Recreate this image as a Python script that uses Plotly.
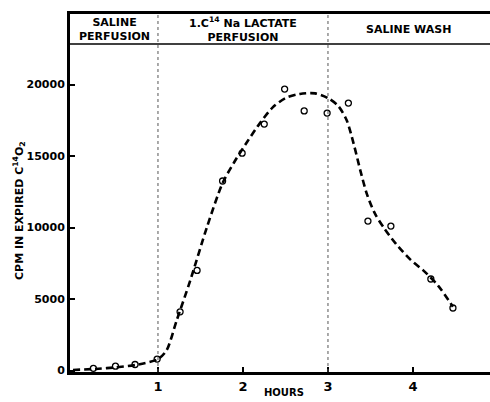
import plotly.graph_objects as go

# observed data points (hours, CPM)
obs_hours = [0.24, 0.5, 0.73, 0.99, 1.26, 1.46, 1.76, 1.99, 2.25, 2.49, 2.72, 2.99, 3.24, 3.47, 3.74, 4.21, 4.47]
obs_cpm = [150, 300, 420, 800, 4100, 7000, 13250, 15200, 17230, 19680, 18150, 18000, 18700, 10450, 10100, 6400, 4370]

# fitted dashed curve
fit_hours = [0.0, 0.3, 0.5, 0.75, 1.0, 1.1, 1.22, 1.38, 1.58, 1.76, 1.9, 2.05, 2.2, 2.35, 2.5, 2.67, 2.85, 3.0, 3.12, 3.22, 3.30, 3.38, 3.46, 3.55, 3.66, 3.8, 3.97, 4.14, 4.3, 4.47]
fit_cpm = [40, 120, 220, 400, 800, 1400, 3500, 6300, 10100, 13100, 14600, 16000, 17300, 18400, 19050, 19340, 19380, 19050, 18500, 17500, 15900, 14000, 12300, 11000, 9950, 8850, 7750, 6900, 5900, 4460]

x_ticks = [1, 2, 3, 4]
y_ticks = [0, 5000, 10000, 15000, 20000]
phases = ["SALINE<br>PERFUSION", "1.C<sup>14</sup> Na LACTATE<br>PERFUSION", "SALINE WASH"]
phase_x = [0.49, 2.0, 3.95]
bounds = [1, 3]

XR = [-0.035, 4.906]
YR = [-105, 24930]
HEADER_Y = 22830

FONT = "DejaVu Sans"

fig = go.Figure()
fig.add_trace(go.Scatter(x=fit_hours, y=fit_cpm, mode="lines",
                         line=dict(color="black", width=2.6, dash="7px,4px", shape="spline", smoothing=0.8),
                         hoverinfo="skip"))
fig.add_trace(go.Scatter(x=obs_hours, y=obs_cpm, mode="markers",
                         marker=dict(symbol="circle-open", size=6, color="black", line=dict(width=1.3))))

shapes = []
for b in bounds:
    shapes.append(dict(type="line", xref="x", yref="y", x0=b, x1=b, y0=YR[0], y1=YR[1],
                       line=dict(color="#555", width=1, dash="dot")))
shapes.append(dict(type="line", xref="paper", yref="y", x0=0, x1=1, y0=HEADER_Y, y1=HEADER_Y,
                   line=dict(color="black", width=1.6)))

annotations = []
for t, px in zip(phases, phase_x):
    annotations.append(dict(text="<b>" + t + "</b>", x=px, y=(HEADER_Y + YR[1]) / 2, xref="x", yref="y",
                            showarrow=False, font=dict(family=FONT, size=11, color="black"),
                            align="center"))
annotations.append(dict(text="<b>HOURS</b>", x=0.51, y=-0.056, xref="paper", yref="paper",
                        showarrow=False, font=dict(family=FONT, size=10, color="black"), yanchor="middle"))
annotations.append(dict(text="<b>CPM IN EXPIRED C<sup>14</sup>O<sub>2</sub></b>", x=-0.145, y=0.45,
                        xref="paper", yref="paper", textangle=-90, showarrow=False,
                        font=dict(family=FONT, size=11, color="black")))

fig.update_layout(
    width=490, height=402,
    margin=dict(l=70, r=0, t=14, b=30),
    paper_bgcolor="white", plot_bgcolor="white",
    showlegend=False,
    shapes=shapes, annotations=annotations,
    xaxis=dict(range=XR, tickvals=x_ticks, ticktext=[f"<b>{v}</b>" for v in x_ticks],
               showgrid=False, zeroline=False, showline=True, linecolor="black", linewidth=3,
               mirror=True, ticks="inside", ticklen=5, tickwidth=1.5, tickcolor="black",
               tickfont=dict(family=FONT, size=13, color="black")),
    yaxis=dict(range=YR, tickvals=y_ticks, ticktext=[f"<b>{v}</b>" for v in y_ticks],
               showgrid=False, zeroline=False, showline=True, linecolor="black", linewidth=3,
               ticks="inside", ticklen=5, tickwidth=1.5, tickcolor="black",
               tickfont=dict(family=FONT, size=11, color="black")),
)

fig.write_html("out.html")
